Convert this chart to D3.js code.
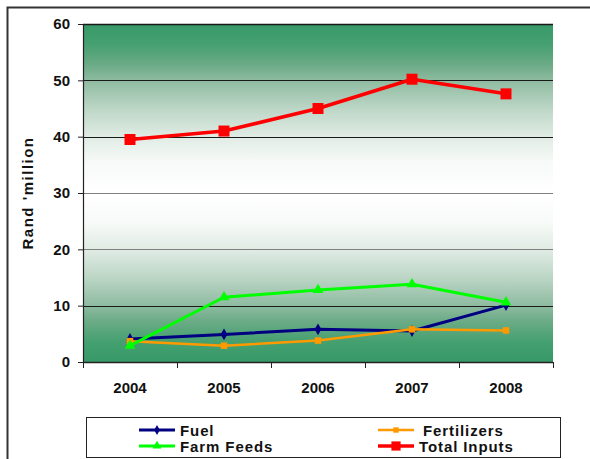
<!DOCTYPE html>
<html>
<head>
<meta charset="utf-8">
<script src="https://cdn.jsdelivr.net/npm/d3@7"></script>
<style>
  html, body { margin: 0; padding: 0; background: #fff; }
  svg { display: block; font-family: "Liberation Sans", Arial, sans-serif; }
</style>
</head>
<body>
<svg id="chart" width="590" height="459"></svg>
<script>
// Farm input costs, Rand million, 2004-2008
const years = ["2004", "2005", "2006", "2007", "2008"];
const fuel = [4.1, 4.9, 5.8, 5.5, 10.1];
const fertilizers = [3.7, 2.9, 3.8, 5.8, 5.6];
const farmFeeds = [2.9, 11.5, 12.8, 13.8, 10.6];
const totalInputs = [39.5, 41.0, 45.0, 50.2, 47.6];
const yTicks = [0, 10, 20, 30, 40, 50, 60];
const seriesNames = ["Fuel", "Fertilizers", "Farm Feeds", "Total Inputs"];

const series = [
  { name: seriesNames[0], values: fuel, color: "#000080", width: 3, marker: "diamond", size: 40 },
  { name: seriesNames[1], values: fertilizers, color: "#FF9900", width: 2.5, marker: "square", size: 42 },
  { name: seriesNames[2], values: farmFeeds, color: "#00FF00", width: 3, marker: "triangle", size: 50 },
  { name: seriesNames[3], values: totalInputs, color: "#FF0000", width: 3.5, marker: "square", size: 121 }
];

const FONT = "'Liberation Sans', Arial, sans-serif";
const svg = d3.select("#chart");
const plot = { left: 83, top: 24, right: 553, bottom: 362 };

// Outer frame
svg.append("rect")
  .attr("x", 7.5).attr("y", 7.5).attr("width", 600).attr("height", 470)
  .attr("fill", "none").attr("stroke", "#333").attr("stroke-width", 2);

const x = d3.scaleBand().domain(years).range([plot.left, plot.right]).padding(0);
const y = d3.scaleLinear().domain([0, 60]).range([plot.bottom, plot.top]);

// Plot background: green at top and bottom, fading to white in the middle
const defs = svg.append("defs");
const grad = defs.append("linearGradient").attr("id", "bg")
  .attr("x1", 0).attr("y1", 0).attr("x2", 0).attr("y2", 1);
[
  [0, "#379968"], [0.06, "#45A070"], [0.12, "#6BAB86"], [0.17, "#90BCA2"],
  [0.25, "#BCD6C6"], [0.33, "#DFEBE3"], [0.41, "#F7FAF8"], [0.5, "#FFFFFF"],
  [0.59, "#F7FAF8"], [0.67, "#DFEBE3"], [0.75, "#BCD6C6"], [0.83, "#90BCA2"],
  [0.88, "#6BAB86"], [0.94, "#45A070"], [1, "#379968"]
].forEach(([o, c]) => grad.append("stop").attr("offset", o).attr("stop-color", c));

svg.append("rect")
  .attr("x", plot.left).attr("y", plot.top)
  .attr("width", plot.right - plot.left).attr("height", plot.bottom - plot.top)
  .attr("fill", "url(#bg)");

// Gridlines
svg.append("g").selectAll("line").data(yTicks.filter(t => t > 0)).join("line")
  .attr("x1", plot.left).attr("x2", plot.right)
  .attr("y1", d => Math.round(y(d)) + 0.5).attr("y2", d => Math.round(y(d)) + 0.5)
  .attr("stroke", d => (d === 20 || d === 30) ? "#808080" : "#1a1a1a")
  .attr("stroke-width", d => d === 60 ? 1.5 : 1);

// Y axis
const yAxis = svg.append("g")
  .attr("transform", `translate(${plot.left},0)`)
  .call(d3.axisLeft(y).tickValues(yTicks).tickSize(5).tickPadding(8).tickFormat(d3.format("d")));
yAxis.attr("font-family", FONT);
yAxis.select(".domain").attr("stroke", "#222").attr("stroke-width", 1.2);
yAxis.selectAll(".tick line").attr("stroke", "#222");
yAxis.selectAll(".tick text")
  .attr("font-size", 15).attr("font-weight", "bold").attr("fill", "#111");

// X axis with ticks at category boundaries
const xAxisG = svg.append("g").attr("transform", `translate(0,${plot.bottom})`);
xAxisG.append("line")
  .attr("x1", plot.left).attr("x2", plot.right).attr("y1", 0.5).attr("y2", 0.5)
  .attr("stroke", "#222").attr("stroke-width", 1.5);
const boundaries = years.map(d => x(d)).concat([x(years[years.length - 1]) + x.bandwidth()]);
xAxisG.selectAll("line.tk").data(boundaries).join("line").attr("class", "tk")
  .attr("x1", d => Math.round(d) + 0.5).attr("x2", d => Math.round(d) + 0.5)
  .attr("y1", 0).attr("y2", 6).attr("stroke", "#222");
xAxisG.selectAll("text").data(years).join("text")
  .attr("x", d => x(d) + x.bandwidth() / 2).attr("y", 31)
  .attr("text-anchor", "middle").attr("font-size", 15).attr("font-weight", "bold")
  .attr("fill", "#111").text(d => d);

// Y axis title
svg.append("text")
  .attr("transform", `translate(33,${(plot.top + plot.bottom) / 2}) rotate(-90)`)
  .attr("text-anchor", "middle").attr("font-size", 15).attr("font-weight", "bold")
  .attr("letter-spacing", 1.5).attr("fill", "#111")
  .text("Rand 'million");

// Series lines and markers
const symbolFor = m => m === "diamond" ? d3.symbolDiamond : m === "triangle" ? d3.symbolTriangle : d3.symbolSquare;
const line = d3.line().x((d, i) => x(years[i]) + x.bandwidth() / 2).y(d => y(d));

series.forEach(s => {
  const g = svg.append("g");
  g.append("path").datum(s.values).attr("d", line)
    .attr("fill", "none").attr("stroke", s.color).attr("stroke-width", s.width)
    .attr("stroke-linejoin", "round");
  g.selectAll("path.pt").data(s.values).join("path").attr("class", "pt")
    .attr("transform", (d, i) => `translate(${x(years[i]) + x.bandwidth() / 2},${y(d)})`)
    .attr("d", d3.symbol().type(symbolFor(s.marker)).size(s.size))
    .attr("fill", s.color);
});

// Legend
const legend = svg.append("g");
legend.append("rect")
  .attr("x", 86.5).attr("y", 417.5).attr("width", 474).attr("height", 40)
  .attr("fill", "#fff").attr("stroke", "#222").attr("stroke-width", 1);

const legendPos = [
  { lx: 139, ly: 430, tx: 180 },
  { lx: 378, ly: 430, tx: 423 },
  { lx: 139, ly: 446, tx: 180 },
  { lx: 378, ly: 446, tx: 419 }
];
series.forEach((s, i) => {
  const p = legendPos[i];
  const g = legend.append("g");
  g.append("line").attr("x1", p.lx).attr("x2", p.lx + 36).attr("y1", p.ly).attr("y2", p.ly)
    .attr("stroke", s.color).attr("stroke-width", s.width);
  g.append("path")
    .attr("transform", `translate(${p.lx + 18},${p.ly})`)
    .attr("d", d3.symbol().type(symbolFor(s.marker)).size(s.size * 0.7))
    .attr("fill", s.color);
  g.append("text").attr("x", p.tx).attr("y", p.ly + 5.5)
    .attr("font-size", 15).attr("font-weight", "bold").attr("letter-spacing", 0.9)
    .attr("fill", "#111").text(s.name);
});
</script>
</body>
</html>
